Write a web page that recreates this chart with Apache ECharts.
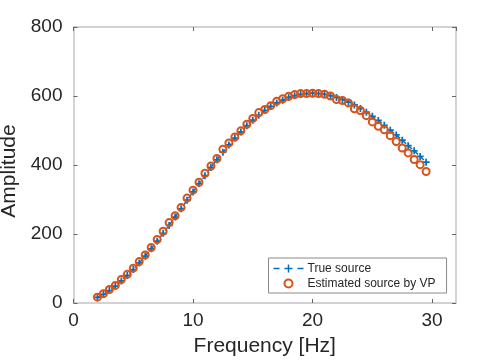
<!DOCTYPE html>
<html>
<head>
<meta charset="utf-8">
<script src="https://cdn.jsdelivr.net/npm/echarts@6/dist/echarts.min.js"></script>
<style>
html,body{margin:0;padding:0;background:#fff;}
#chart{width:504px;height:360px;}
</style>
</head>
<body>
<div id="chart"></div>
<script>
var frequencies = [2,2.5,3,3.5,4,4.5,5,5.5,6,6.5,7,7.5,8,8.5,9,9.5,10,10.5,11,11.5,12,12.5,13,13.5,14,14.5,15,15.5,16,16.5,17,17.5,18,18.5,19,19.5,20,20.5,21,21.5,22,22.5,23,23.5,24,24.5,25,25.5,26,26.5,27,27.5,28,28.5,29,29.5];
var trueSource = [16,25,36,49,64,80,97,116,136,157,179,202,225,249,273,298,322,346,369,393,415,437,458,478,496,514,530,544,558,570,580,588,596,601,605,607,608,607,605,601,596,590,582,574,564,553,541,529,515,501,487,472,456,441,425,408];
var estimatedVP = [17,27,39,51,68,83,101,120,139,161,184,208,233,253,277,304,327,350,376,397,419,446,464,481,499,518,535,552,561,572,585,592,599,604,607,607,608,607,605,600,590,587,580,563,558,543,525,512,502,485,468,449,435,416,401,381];
var xTicks = {min: 0, max: 32, interval: 10};
var yTicks = {min: 0, max: 800, interval: 200};
var seriesNames = ['True source', 'Estimated source by VP'];

var trueData = frequencies.map(function(f, i){ return [f, trueSource[i]]; });
var estData = frequencies.map(function(f, i){ return [f, estimatedVP[i]]; });

var font = '"Liberation Sans", Arial, Helvetica, sans-serif';
var plusPath = 'path://M3,0 H5 V3 H8 V5 H5 V8 H3 V5 H0 V3 H3 Z';
var legendTruePath = 'path://M0,3.25 H6 V4.75 H0 Z M11,3.25 H14.25 V0 H15.75 V3.25 H19 V4.75 H15.75 V8 H14.25 V4.75 H11 Z M24,3.25 H30 V4.75 H24 Z';

var lineCol = '#c4c4c4';
var tickCol = '#666666';
function axisBase(extra){
  var base = {
    type: 'value',
    axisLine: {show: true, onZero: false, lineStyle: {color: lineCol, width: 1.5}},
    axisTick: {show: true, inside: true, length: 4, lineStyle: {color: tickCol, width: 1}},
    splitLine: {show: false},
    axisLabel: {show: false}
  };
  for (var k in extra) base[k] = extra[k];
  return base;
}

var chart = echarts.init(document.getElementById('chart'), null, {renderer: 'canvas'});
chart.setOption({
  animation: false,
  backgroundColor: '#ffffff',
  grid: {left: 73.5, right: 48, top: 27, bottom: 57, containLabel: false, outerBoundsMode: 'none'},
  xAxis: [
    axisBase({
      position: 'bottom', min: xTicks.min, max: xTicks.max, interval: xTicks.interval,
      axisLabel: {show: true, color: '#262626', fontSize: 19, fontFamily: font, margin: 8,
        showMaxLabel: false},
      name: 'Frequency [Hz]', nameLocation: 'middle', nameGap: 33,
      nameTextStyle: {color: '#262626', fontSize: 21, fontFamily: font}
    }),
    axisBase({position: 'top', min: xTicks.min, max: xTicks.max, interval: xTicks.interval})
  ],
  yAxis: [
    axisBase({
      position: 'left', min: yTicks.min, max: yTicks.max, interval: yTicks.interval,
      axisLabel: {show: true, color: '#262626', fontSize: 19, fontFamily: font, margin: 11},
      name: 'Amplitude', nameLocation: 'middle', nameGap: 44,
      nameTextStyle: {color: '#262626', fontSize: 21, fontFamily: font, padding: [0, 12, 0, 0]}
    }),
    axisBase({position: 'right', min: yTicks.min, max: yTicks.max, interval: yTicks.interval})
  ],
  legend: {
    show: true,
    orient: 'vertical',
    left: 268.5,
    top: 258,
    padding: [3, 11, 2, 5],
    itemGap: 0,
    itemWidth: 30,
    itemHeight: 8,
    backgroundColor: '#ffffff',
    borderColor: '#8a8a8a',
    borderWidth: 1,
    borderRadius: 0,
    textStyle: {color: '#262626', fontSize: 12, fontFamily: font, lineHeight: 15, padding: [0, 0, 0, -1]},
    data: [
      {name: seriesNames[0], icon: legendTruePath, itemStyle: {color: '#0072BD', borderWidth: 0}},
      {name: seriesNames[1], icon: 'circle', itemStyle: {color: 'rgba(0,0,0,0)', borderColor: '#D95319', borderWidth: 2}}
    ]
  },
  series: [
    {
      name: seriesNames[0], type: 'line', data: trueData,
      xAxisIndex: 0, yAxisIndex: 0,
      symbol: plusPath, symbolSize: 7, showSymbol: true,
      itemStyle: {color: '#0072BD'},
      lineStyle: {color: '#0072BD', width: 1.5, type: [5, 3]},
      z: 2
    },
    {
      name: seriesNames[1], type: 'scatter', data: estData,
      xAxisIndex: 0, yAxisIndex: 0,
      symbol: 'circle', symbolSize: 7,
      itemStyle: {color: 'rgba(0,0,0,0)', borderColor: '#D95319', borderWidth: 2, opacity: 1},
      z: 3
    }
  ]
});
</script>
</body>
</html>
